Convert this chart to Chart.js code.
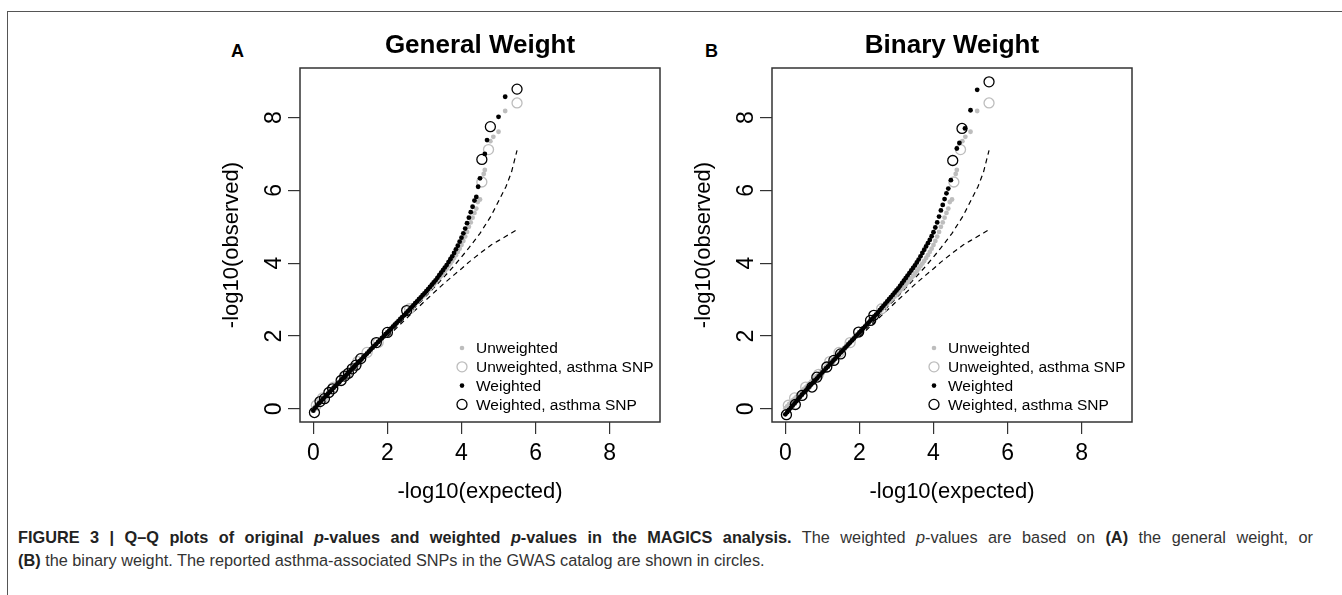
<!DOCTYPE html>
<html>
<head>
<meta charset="utf-8">
<script src="https://cdn.jsdelivr.net/npm/chart.js@4.4.1/dist/chart.umd.min.js"></script>
<style>
  body {
    margin: 0;
    width: 1342px;
    height: 595px;
    position: relative;
    overflow: hidden;
    background: #fff;
    font-family: 'Liberation Sans', Arial, Helvetica, sans-serif;
  }
  .frame-top { position: absolute; left: 7px; top: 11px; width: 1335px; height: 1px; background: #555; }
  .frame-left { position: absolute; left: 7px; top: 11px; width: 1px; height: 584px; background: #555; }
  canvas { position: absolute; top: 25px; }
  .letter { position: absolute; font-weight: bold; font-size: 18px; color: #000; }
  .caption {
    position: absolute;
    left: 18px;
    top: 526px;
    width: 1295px;
    font-size: 16.3px;
    line-height: 23px;
    color: #333;
    white-space: nowrap;
  }
  .caption .first { text-align: justify; text-align-last: justify; }
  .caption b { color: #222; }
</style>
</head>
<body>

<div class="frame-top"></div>
<div class="frame-left"></div>

<div class="letter" style="left:231px; top:41px;">A</div>
<div class="letter" style="left:705px; top:41px;">B</div>

<canvas id="chartA" width="465" height="487" style="left:215px;"></canvas>
<canvas id="chartB" width="465" height="487" style="left:687px;"></canvas>

<div class="caption">
  <div class="first"><b>FIGURE 3 | Q–Q plots of original <i>p</i>-values and weighted <i>p</i>-values in the MAGICS analysis.</b> The weighted <i>p</i>-values are based on <b>(A)</b> the general weight, or</div>
  <div><b>(B)</b> the binary weight. The reported asthma-associated SNPs in the GWAS catalog are shown in circles.</div>
</div>

<script>
// expected -log10(p) for the dense part of the Q-Q curves
const expectedQ = [
  0.00, 0.05, 0.10, 0.15, 0.20, 0.25, 0.30, 0.35, 0.40, 0.45,
  0.50, 0.55, 0.60, 0.65, 0.70, 0.75, 0.80, 0.85, 0.90, 0.95,
  1.00, 1.05, 1.10, 1.15, 1.20, 1.25, 1.30, 1.35, 1.40, 1.45,
  1.50, 1.55, 1.60, 1.65, 1.70, 1.75, 1.80, 1.85, 1.90, 1.95,
  2.00, 2.05, 2.10, 2.15, 2.20, 2.25, 2.30, 2.35, 2.40, 2.45,
  2.50, 2.55, 2.60, 2.65, 2.70, 2.75, 2.80, 2.85, 2.90, 2.95,
  3.00, 3.05, 3.10, 3.15, 3.20, 3.25, 3.30, 3.35, 3.40, 3.45,
  3.50, 3.55, 3.60, 3.65, 3.70, 3.75, 3.80, 3.85, 3.90, 3.95,
  4.00, 4.05, 4.10, 4.15, 4.20, 4.25, 4.30, 4.35
];

// observed -log10(p), unweighted (same in both panels)
const unweightedObs = [
  0.02, 0.07, 0.13, 0.18, 0.23, 0.28, 0.33, 0.39, 0.44, 0.49,
  0.54, 0.59, 0.64, 0.70, 0.75, 0.80, 0.85, 0.90, 0.95, 1.01,
  1.06, 1.11, 1.16, 1.22, 1.27, 1.32, 1.37, 1.42, 1.47, 1.53,
  1.58, 1.63, 1.68, 1.74, 1.79, 1.84, 1.89, 1.95, 2.00, 2.05,
  2.10, 2.16, 2.21, 2.26, 2.31, 2.37, 2.42, 2.47, 2.52, 2.57,
  2.62, 2.67, 2.72, 2.77, 2.83, 2.88, 2.93, 2.98, 3.03, 3.08,
  3.13, 3.19, 3.24, 3.30, 3.35, 3.41, 3.47, 3.53, 3.59, 3.65,
  3.71, 3.78, 3.85, 3.92, 3.99, 4.06, 4.14, 4.22, 4.31, 4.40,
  4.50, 4.61, 4.73, 4.86, 5.00, 5.12, 5.25, 5.38
];

// observed -log10(p), general weight
const generalObs = [
  -0.05, 0.03, 0.09, 0.15, 0.20, 0.26, 0.31, 0.37, 0.42, 0.47,
  0.52, 0.58, 0.63, 0.68, 0.73, 0.79, 0.84, 0.89, 0.94, 1.00,
  1.05, 1.10, 1.15, 1.21, 1.26, 1.31, 1.36, 1.42, 1.47, 1.52,
  1.57, 1.63, 1.68, 1.73, 1.78, 1.84, 1.89, 1.94, 1.99, 2.05,
  2.10, 2.15, 2.20, 2.26, 2.31, 2.36, 2.41, 2.47, 2.52, 2.57,
  2.62, 2.68, 2.73, 2.79, 2.84, 2.90, 2.95, 3.01, 3.06, 3.12,
  3.17, 3.23, 3.29, 3.35, 3.41, 3.47, 3.53, 3.60, 3.67, 3.74,
  3.81, 3.88, 3.95, 4.03, 4.11, 4.19, 4.28, 4.38, 4.48, 4.59,
  4.70, 4.82, 4.95, 5.10, 5.25, 5.40, 5.55, 5.72
];

// observed -log10(p), binary weight
const binaryObs = [
  -0.15, -0.09, -0.03, 0.03, 0.09, 0.15, 0.21, 0.27, 0.33, 0.39,
  0.45, 0.50, 0.56, 0.61, 0.67, 0.72, 0.78, 0.83, 0.89, 0.94,
  1.00, 1.05, 1.11, 1.16, 1.22, 1.27, 1.33, 1.38, 1.44, 1.49,
  1.55, 1.60, 1.66, 1.71, 1.77, 1.82, 1.88, 1.93, 1.99, 2.04,
  2.10, 2.15, 2.21, 2.26, 2.32, 2.37, 2.43, 2.48, 2.54, 2.59,
  2.65, 2.71, 2.77, 2.83, 2.89, 2.95, 3.01, 3.07, 3.13, 3.19,
  3.25, 3.31, 3.38, 3.45, 3.52, 3.59, 3.66, 3.73, 3.80, 3.87,
  3.94, 4.02, 4.10, 4.19, 4.28, 4.37, 4.46, 4.55, 4.64, 4.74,
  4.85, 4.98, 5.12, 5.28, 5.45, 5.60, 5.76, 5.92
];

// sparse top points
const unweightedTailX = [4.40, 4.44, 4.50, 4.60, 4.63, 4.78, 4.86, 5.00, 5.18];
const unweightedTailY = [5.50, 5.68, 5.75, 6.45, 6.56, 7.35, 7.47, 7.61, 8.18];

const generalTailX = [4.40, 4.45, 4.50, 4.63, 4.69, 5.00, 5.18];
const generalTailY = [5.82, 6.10, 6.33, 7.00, 7.38, 8.02, 8.57];

const binaryTailX = [4.40, 4.47, 4.63, 4.70, 4.85, 5.00, 5.18];
const binaryTailY = [6.05, 6.28, 7.15, 7.30, 7.70, 8.20, 8.76];

// asthma SNPs (circles)
const unweightedSnpX = [0.08, 0.25, 0.55, 0.90, 1.20, 1.45, 1.75, 2.60, 4.55, 4.73, 5.50];
const unweightedSnpY = [0.10, 0.30, 0.60, 0.95, 1.30, 1.55, 1.82, 2.75, 6.23, 7.12, 8.40];

const generalSnpX = [0.03, 0.18, 0.30, 0.42, 0.52, 0.75, 0.85, 0.95, 1.05, 1.15, 1.28, 1.70, 2.00, 2.52, 4.55, 4.78, 5.50];
const generalSnpY = [-0.10, 0.20, 0.28, 0.45, 0.55, 0.78, 0.90, 0.98, 1.10, 1.20, 1.38, 1.82, 2.10, 2.70, 6.85, 7.75, 8.78];

const binarySnpX = [0.03, 0.27, 0.45, 0.72, 0.85, 1.12, 1.31, 1.49, 1.98, 2.30, 2.39, 4.52, 4.77, 5.50];
const binarySnpY = [-0.16, 0.12, 0.37, 0.60, 0.87, 1.15, 1.33, 1.51, 2.11, 2.43, 2.57, 6.82, 7.70, 8.98];

// 95% band (dashed)
const bandX = [2.00, 2.50, 3.00, 3.50, 3.80, 4.00, 4.20, 4.50, 4.80, 5.00, 5.20, 5.35, 5.50];
const bandUpper = [2.02, 2.53, 3.05, 3.59, 3.93, 4.17, 4.42, 4.82, 5.30, 5.70, 6.10, 6.50, 7.10];
const bandLower = [1.98, 2.47, 2.95, 3.42, 3.68, 3.85, 4.03, 4.27, 4.50, 4.62, 4.74, 4.83, 4.92];

const tickValues = [0, 2, 4, 6, 8];

const legendLabels = ['Unweighted', 'Unweighted, asthma SNP', 'Weighted', 'Weighted, asthma SNP'];

const FONT = "'Liberation Sans', Arial, Helvetica, sans-serif";
const GRAY = '#bdbdbd';

function toPoints(xs, ys) {
  return xs.map((x, i) => ({ x: x, y: ys[i] }));
}

const boxPlugin = {
  id: 'box',
  afterDraw(chart) {
    const { ctx, chartArea } = chart;
    ctx.save();
    ctx.strokeStyle = '#333';
    ctx.lineWidth = 1.5;
    ctx.strokeRect(chartArea.left, chartArea.top, chartArea.right - chartArea.left, chartArea.bottom - chartArea.top);
    ctx.restore();
  }
};

const legendPlugin = {
  id: 'qqLegend',
  afterDraw(chart) {
    const { ctx, chartArea } = chart;
    const symX = chartArea.left + 162;
    const textX = chartArea.left + 176;
    const styles = [
      { r: 2.3, fill: GRAY },
      { r: 5, stroke: GRAY },
      { r: 2.3, fill: '#000' },
      { r: 5, stroke: '#000' }
    ];
    ctx.save();
    ctx.font = '15.5px ' + FONT;
    ctx.textBaseline = 'middle';
    legendLabels.forEach((label, i) => {
      const y = chartArea.top + 280 + i * 18.8;
      const s = styles[i];
      ctx.beginPath();
      ctx.arc(symX, y, s.r, 0, Math.PI * 2);
      if (s.fill) {
        ctx.fillStyle = s.fill;
        ctx.fill();
      } else {
        ctx.lineWidth = 1.3;
        ctx.strokeStyle = s.stroke;
        ctx.stroke();
      }
      ctx.fillStyle = '#000';
      ctx.fillText(label, textX, y + 1);
    });
    ctx.restore();
  }
};

function axisOptions(titleText, isX) {
  return {
    type: 'linear',
    min: -0.36,
    max: 9.36,
    afterBuildTicks: scale => {
      scale.ticks = tickValues.map(v => ({ value: v }));
    },
    afterFit: scale => {
      if (isX) {
        scale.height = 90;
      } else {
        scale.width = 85;
      }
    },
    grid: {
      drawOnChartArea: false,
      drawTicks: true,
      tickLength: 12,
      color: '#333',
      lineWidth: 1.2
    },
    border: { display: false },
    ticks: isX
      ? { padding: 6, color: '#000', font: { family: FONT, size: 23 } }
      : { padding: 7, color: '#000', minRotation: 90, maxRotation: 90, crossAlign: 'center', font: { family: FONT, size: 23 } },
    title: {
      display: true,
      text: titleText,
      color: '#000',
      font: { family: FONT, size: 22 },
      padding: isX ? { top: 0, bottom: 6.5 } : { top: 3.5, bottom: 0 }
    }
  };
}

function renderPanel(canvasId, title, weightedObs, tailX, tailY, snpX, snpY) {

  const weightedPts = toPoints(expectedQ, weightedObs).concat(toPoints(tailX, tailY));

  const unweightedPts = toPoints(expectedQ, unweightedObs).concat(toPoints(unweightedTailX, unweightedTailY));

  new Chart(document.getElementById(canvasId), {
    type: 'scatter',
    data: {
      datasets: [
        {
          label: 'upper',
          data: toPoints(bandX, bandUpper),
          showLine: true,
          pointRadius: 0,
          borderColor: '#000',
          borderWidth: 1.2,
          borderDash: [5, 4],
          order: 10
        },
        {
          label: 'lower',
          data: toPoints(bandX, bandLower),
          showLine: true,
          pointRadius: 0,
          borderColor: '#000',
          borderWidth: 1.2,
          borderDash: [5, 4],
          order: 9
        },
        {
          label: legendLabels[0],
          data: unweightedPts,
          pointRadius: 2.4,
          backgroundColor: GRAY,
          borderWidth: 0,
          order: 8
        },
        {
          label: legendLabels[1],
          data: toPoints(unweightedSnpX, unweightedSnpY),
          pointRadius: 5,
          backgroundColor: 'rgba(0,0,0,0)',
          borderColor: GRAY,
          borderWidth: 1.3,
          order: 7
        },
        {
          label: legendLabels[2],
          data: weightedPts,
          pointRadius: 2.4,
          backgroundColor: '#000',
          borderWidth: 0,
          order: 6
        },
        {
          label: legendLabels[3],
          data: toPoints(snpX, snpY),
          pointRadius: 5,
          backgroundColor: 'rgba(0,0,0,0)',
          borderColor: '#000',
          borderWidth: 1.3,
          order: 5
        }
      ]
    },
    options: {
      responsive: false,
      devicePixelRatio: 1,
      animation: false,
      events: [],
      layout: { padding: { right: 20 } },
      plugins: {
        legend: { display: false },
        tooltip: { enabled: false },
        title: {
          display: true,
          fullSize: false,
          text: title,
          color: '#000',
          font: { family: FONT, size: 26, weight: 'bold' },
          padding: { top: 5, bottom: 6.8 }
        }
      },
      scales: {
        x: axisOptions('-log10(expected)', true),
        y: axisOptions('-log10(observed)', false)
      }
    },
    plugins: [boxPlugin, legendPlugin]
  });
}

renderPanel('chartA', 'General Weight', generalObs, generalTailX, generalTailY, generalSnpX, generalSnpY);

renderPanel('chartB', 'Binary Weight', binaryObs, binaryTailX, binaryTailY, binarySnpX, binarySnpY);
</script>
</body>
</html>
